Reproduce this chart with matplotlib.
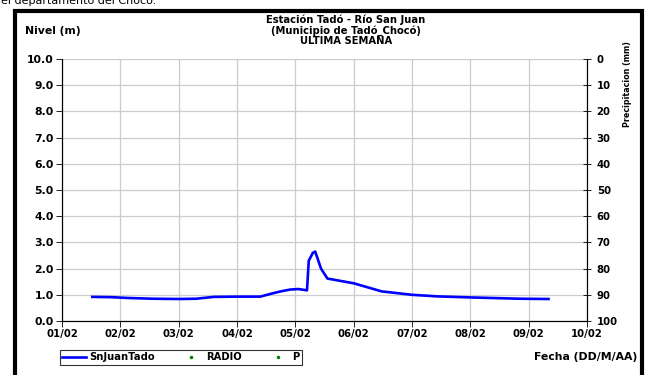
import matplotlib
matplotlib.use("Agg")
from matplotlib import pyplot as plt
from matplotlib.lines import Line2D
from matplotlib.patches import Rectangle

# nivel del rio, dias desde 01/02 00:00
dias = [0.52, 0.85, 1.11, 1.56, 2.0, 2.3, 2.6, 3.0, 3.4, 3.6, 3.75, 3.91, 4.05, 4.2,
        4.23, 4.3, 4.34, 4.39, 4.44, 4.55, 5.0, 5.48, 6.0, 6.43, 7.0, 7.85, 8.34]
nivel = [0.92, 0.91, 0.88, 0.85, 0.84, 0.85, 0.92, 0.93, 0.93, 1.05, 1.13, 1.20, 1.22, 1.17,
         2.3, 2.6, 2.65, 2.33, 2.0, 1.62, 1.44, 1.13, 1.00, 0.94, 0.90, 0.85, 0.84]
# series sin datos en la semana
radio_dias = []
radio_mm = []
p_dias = []
p_mm = []

fechas = ["01/02", "02/02", "03/02", "04/02", "05/02", "06/02", "07/02", "08/02", "09/02", "10/02"]
niveles_ticks = [0.0, 1.0, 2.0, 3.0, 4.0, 5.0, 6.0, 7.0, 8.0, 9.0, 10.0]
precip_ticks = [0, 10, 20, 30, 40, 50, 60, 70, 80, 90, 100]

plt.rcParams["font.family"] = ["DejaVu Sans"]
plt.rcParams["font.weight"] = "bold"

fig = plt.figure(figsize=(6.58, 3.75), dpi=100)
ax = fig.add_axes([62 / 658, 1 - 321 / 375, 525 / 658, 262 / 375])

ax.plot(dias, nivel, color="#0000ff", linewidth=1.9, zorder=3)

ax.set_xlim(0, 9)
ax.set_ylim(0, 10)
ax.set_xticks(range(len(fechas)))
ax.set_xticklabels(fechas, fontsize=7.3, fontweight="bold")
ax.set_yticks(niveles_ticks)
ax.set_yticklabels([f"{v:.1f}" for v in niveles_ticks], fontsize=7.8, fontweight="bold")
ax.grid(True, color="#cccccc", linewidth=0.9)
ax.tick_params(axis="both", direction="out", length=4, width=0.6, pad=2)
ax.spines["top"].set_visible(False)
ax.spines["left"].set_linewidth(0.8)
ax.spines["bottom"].set_linewidth(0.8)

# eje de precipitacion (invertido)
ax2 = ax.twinx()
ax2.set_ylim(100, 0)
ax2.set_yticks(precip_ticks)
ax2.set_yticklabels([str(v) for v in precip_ticks], fontsize=7.3, fontweight="bold")
ax2.tick_params(axis="y", direction="inout", length=6, width=0.6, pad=4)
ax2.spines["top"].set_visible(False)
ax2.spines["right"].set_linewidth(0.8)
ax2.plot(radio_dias, radio_mm, "o", color="green", markersize=1.5)
ax2.plot(p_dias, p_mm, "o", color="green", markersize=1.5)

# textos
fig.text(1 / 658, 1 - 4 / 375, "el departamento del Chocó.", fontsize=8,
         fontweight="normal", va="baseline", ha="left")
fig.text(25 / 658, 1 - 31 / 375, "Nivel (m)", fontsize=7.8, va="center", ha="left")
fig.text(346 / 658, 1 - 19.5 / 375, "Estación Tadó - Río San Juan", fontsize=7.2, va="center", ha="center")
fig.text(346 / 658, 1 - 30.5 / 375, "(Municipio de Tadó_Chocó)", fontsize=7.2, va="center", ha="center")
fig.text(346 / 658, 1 - 41.5 / 375, "ULTIMA SEMANA", fontsize=7.2, va="center", ha="center")
fig.text(627 / 658, 1 - 84 / 375, "Precipitacion (mm)", fontsize=5.8, va="center", ha="center",
         rotation=90)
fig.text(637 / 658, 1 - 357 / 375, "Fecha (DD/M/AA)", fontsize=7.8, va="center", ha="right")

# leyenda
handles = [Line2D([], [], color="#0000ff", linewidth=1.9),
           Line2D([], [], color="green", marker="o", markersize=1.5, linestyle="none"),
           Line2D([], [], color="green", marker="o", markersize=1.5, linestyle="none")]
leg = fig.legend(handles, ["SnJuanTado", "RADIO", "P"], ncol=3, fontsize=7.2,
                 loc="center", bbox_to_anchor=(181 / 658, 1 - 357.5 / 375),
                 frameon=True, fancybox=False, handlelength=2.4, handletextpad=0.3,
                 columnspacing=2.4, borderpad=0.25, borderaxespad=0)
leg.get_frame().set_edgecolor("black")
leg.get_frame().set_linewidth(0.8)

# marco negro
fig.patches.append(Rectangle((15 / 658, -0.1), 626.5 / 658, 1.1 - 11.5 / 375,
                             transform=fig.transFigure, fill=False,
                             edgecolor="black", linewidth=3))

fig.savefig("out.png", dpi=100)
